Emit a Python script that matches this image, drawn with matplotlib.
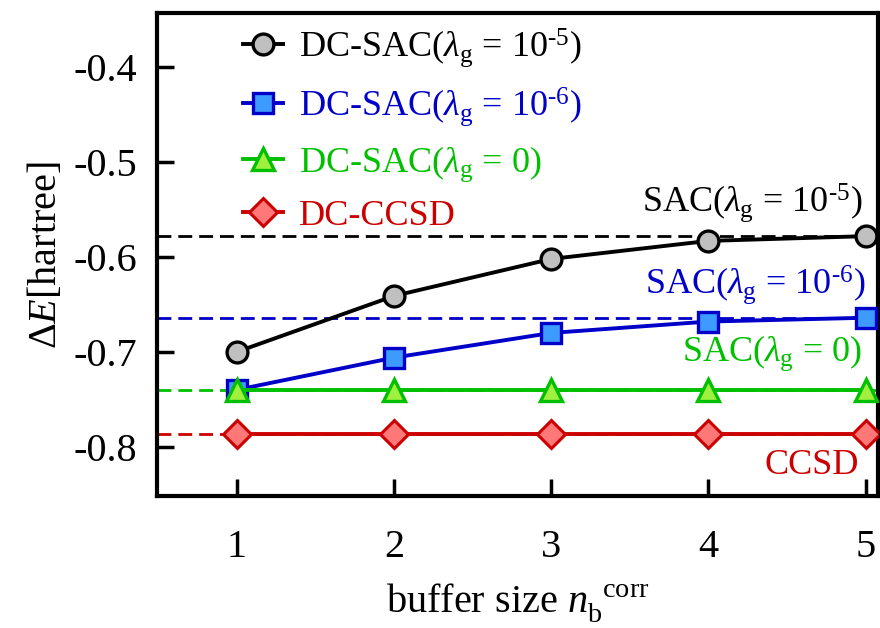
import numpy as np
import matplotlib
matplotlib.use("Agg")
import matplotlib.pyplot as plt

plt.rcParams['font.family'] = ['Liberation Serif', 'DejaVu Serif']
plt.rcParams['mathtext.fontset'] = 'custom'
plt.rcParams['mathtext.rm'] = 'Liberation Serif'
plt.rcParams['mathtext.it'] = 'Liberation Serif:italic'
plt.rcParams['axes.unicode_minus'] = False

# buffer size
nb = [1, 2, 3, 4, 5]

# energies
dc_sac_5 = [-0.700, -0.641, -0.602, -0.583, -0.578]
dc_sac_6 = [-0.740, -0.706, -0.680, -0.668, -0.664]
dc_sac_0 = [-0.740, -0.740, -0.740, -0.740, -0.740]
dc_ccsd = [-0.786, -0.786, -0.786, -0.786, -0.786]

# reference (non-DC) values
ref_sac_5 = -0.578
ref_sac_6 = -0.664
ref_sac_0 = -0.740
ref_ccsd = -0.786

fig = plt.figure(figsize=(8.8, 6.28), dpi=100)
ax = fig.add_axes([0.178, 0.210, 0.820, 0.769])

# dashed reference lines
dash = (0, (5, 2.5))
ax.axhline(ref_sac_5, color='black', ls=dash, lw=2.0, zorder=1)
ax.axhline(ref_sac_6, color='#0000c8', ls=dash, lw=2.0, zorder=1)
ax.axhline(ref_sac_0, color='#00c000', ls=dash, lw=2.0, zorder=1)
ax.axhline(ref_ccsd, color='#cc0000', ls=dash, lw=2.0, zorder=1)

ax.plot(nb, dc_sac_5, '-o', color='black', mfc='#c0c0c0', mec='black',
        ms=15, mew=2.4, lw=2.8, zorder=3,
        label=r'DC-SAC($\lambda_{\rm g}$ = 10$^{\text{-5}}$)')
ax.plot(nb, dc_sac_6, '-s', color='#0000c8', mfc='#3d9bff', mec='#0000c8',
        ms=14, mew=2.4, lw=2.8, zorder=3,
        label=r'DC-SAC($\lambda_{\rm g}$ = 10$^{\text{-6}}$)')
ax.plot(nb, dc_sac_0, '-^', color='#00c000', mfc='#a0f040', mec='#00c000',
        ms=16, mew=2.4, lw=2.8, zorder=3,
        label=r'DC-SAC($\lambda_{\rm g}$ = 0)')
ax.plot(nb, dc_ccsd, '-D', color='#cc0000', mfc='#ff7878', mec='#cc0000',
        ms=14, mew=2.2, lw=2.8, zorder=3,
        label='DC-CCSD')

ax.set_xlim(0.49, 5.08)
ax.set_ylim(-0.852, -0.343)
ax.set_xticks(nb)
ax.set_yticks([-0.8, -0.7, -0.6, -0.5, -0.4])
ax.set_yticklabels(['-0.8', '-0.7', '-0.6', '-0.5', '-0.4'])
ax.tick_params(direction='in', length=12, width=2.5, labelsize=29, pad=14)
ax.tick_params(axis='x', pad=24)
for s in ax.spines.values():
    s.set_linewidth(3)

ax.set_xlabel(r'buffer size $n_{\rm b}^{\ \ \rm corr}$', fontsize=29, labelpad=11)
ax.set_ylabel(r'$\Delta E$[hartree]', fontsize=29, labelpad=6)

leg = ax.legend(loc='upper left', bbox_to_anchor=(0.085, 1.025), frameon=False,
                fontsize=26, handlelength=1.1, handletextpad=0.45,
                labelspacing=0.45, borderaxespad=0.3)
for t, c in zip(leg.get_texts(), ['black', '#0000c8', '#00c000', '#cc0000']):
    t.set_color(c)

ax.text(4.98, -0.565, r'SAC($\lambda_{\rm g}$ = 10$^{\text{-5}}$)', ha='right', va='bottom',
        fontsize=26, color='black')
ax.text(5.0, -0.652, r'SAC($\lambda_{\rm g}$ = 10$^{\text{-6}}$)', ha='right', va='bottom',
        fontsize=26, color='#0000c8')
ax.text(4.98, -0.722, r'SAC($\lambda_{\rm g}$ = 0)', ha='right', va='bottom',
        fontsize=26, color='#00c000')
ax.text(4.96, -0.820, 'CCSD', ha='right', va='center',
        fontsize=26, color='#cc0000')

fig.savefig('out.png', dpi=100)
